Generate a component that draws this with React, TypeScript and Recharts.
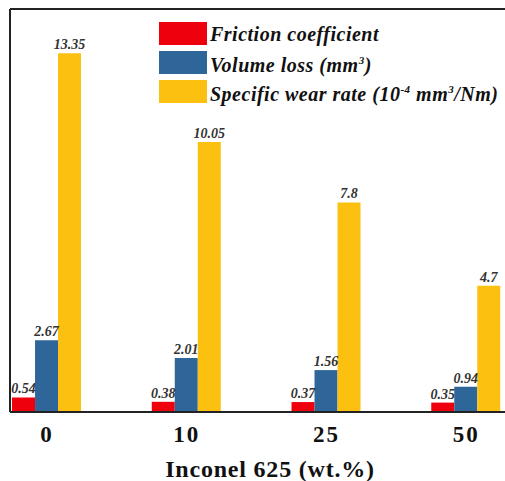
import {
  BarChart,
  Bar,
  XAxis,
  YAxis,
  Legend,
  LabelList,
  ReferenceLine,
} from "recharts";

// Inconel 625 content (wt.%)
const categories = ["0", "10", "25", "50"];
const frictionCoefficient = [0.54, 0.38, 0.37, 0.35];
const volumeLoss = [2.67, 2.01, 1.56, 0.94];
const specificWearRate = [13.35, 10.05, 7.8, 4.7];

const RED = "#EE000C";
const BLUE = "#2F6699";
const YELLOW = "#FCC010";
const SERIF = "'Liberation Serif', 'DejaVu Serif', serif";

const data = categories.map((c, i) => ({
  idx: i,
  label: c,
  friction: frictionCoefficient[i],
  volume: volumeLoss[i],
  wear: specificWearRate[i],
}));

const legendRows = [
  { color: RED, text: <>Friction coefficient</> },
  {
    color: BLUE,
    text: (
      <>
        Volume loss (mm<sup style={{ fontSize: "0.55em" }}>3</sup>)
      </>
    ),
  },
  {
    color: YELLOW,
    text: (
      <>
        Specific wear rate (10<sup style={{ fontSize: "0.55em" }}>-4</sup> mm
        <sup style={{ fontSize: "0.55em" }}>3</sup>/Nm)
      </>
    ),
  },
];

function LegendBox() {
  return (
    <div style={{ fontFamily: SERIF, fontStyle: "italic", fontWeight: "bold" }}>
      {legendRows.map((r, i) => (
        <div
          key={i}
          style={{ display: "flex", alignItems: "center", height: 29, lineHeight: "20px" }}
        >
          <span
            style={{ display: "inline-block", width: 48, height: 23, background: r.color, marginRight: 3 }}
          />
          <span style={{ fontSize: 20, letterSpacing: 0.5, color: "#111", whiteSpace: "nowrap" }}>
            {r.text}
          </span>
        </div>
      ))}
    </div>
  );
}

const valueLabel = {
  position: "top" as const,
  offset: 4,
  fill: "#333",
  fontSize: 14,
  fontStyle: "italic",
  fontWeight: "bold",
  fontFamily: SERIF,
};

export default function App() {
  return (
    <div
      style={{
        position: "absolute",
        left: 0,
        top: 0,
        width: 505,
        height: 481,
        overflow: "hidden",
        background: "#fff",
      }}
    >
      <BarChart
        width={540}
        height={481}
        data={data}
        margin={{ top: 9, right: 10, left: 9, bottom: 0 }}
        barGap={0}
        barSize={23}
      >
        {/* top frame line */}
        <XAxis
          xAxisId="top"
          orientation="top"
          dataKey="idx"
          type="number"
          domain={[-0.264, 3.457]}
          height={0}
          tick={false}
          tickLine={false}
          axisLine
          stroke="#222"
          strokeWidth={2}
        />
        <XAxis
          dataKey="idx"
          type="number"
          domain={[-0.264, 3.457]}
          ticks={[0, 1, 2, 3]}
          tickFormatter={(v) => categories[v] ?? ""}
          height={69}
          axisLine
          stroke="#222"
          strokeWidth={2}
          tickLine={false}
          tick={{ fill: "#111", fontSize: 23, letterSpacing: 2, fontWeight: "bold", fontFamily: SERIF }}
          tickMargin={8}
          label={{
            value: "Inconel 625 (wt.%)",
            position: "insideBottom",
            offset: 4,
            fill: "#111",
            fontSize: 24,
            letterSpacing: 0.8,
            fontWeight: "bold",
            fontFamily: SERIF,
          }}
        />
        <YAxis
          type="number"
          domain={[0, 15]}
          width={1}
          tick={false}
          tickLine={false}
          axisLine
          stroke="#222"
          strokeWidth={2}
        />
        <ReferenceLine y={15} stroke="#222" strokeWidth={2} ifOverflow="extendDomain" />
        <Legend
          layout="horizontal"
          verticalAlign="middle"
          align="center"
          content={() => <LegendBox />}
          wrapperStyle={{ top: 19, left: 159, width: 380 }}
        />
        <Bar dataKey="friction" fill={RED} isAnimationActive={false}>
          <LabelList dataKey="friction" {...valueLabel} />
        </Bar>
        <Bar dataKey="volume" fill={BLUE} isAnimationActive={false}>
          <LabelList dataKey="volume" {...valueLabel} />
        </Bar>
        <Bar dataKey="wear" fill={YELLOW} isAnimationActive={false}>
          <LabelList dataKey="wear" {...valueLabel} />
        </Bar>
      </BarChart>
    </div>
  );
}
